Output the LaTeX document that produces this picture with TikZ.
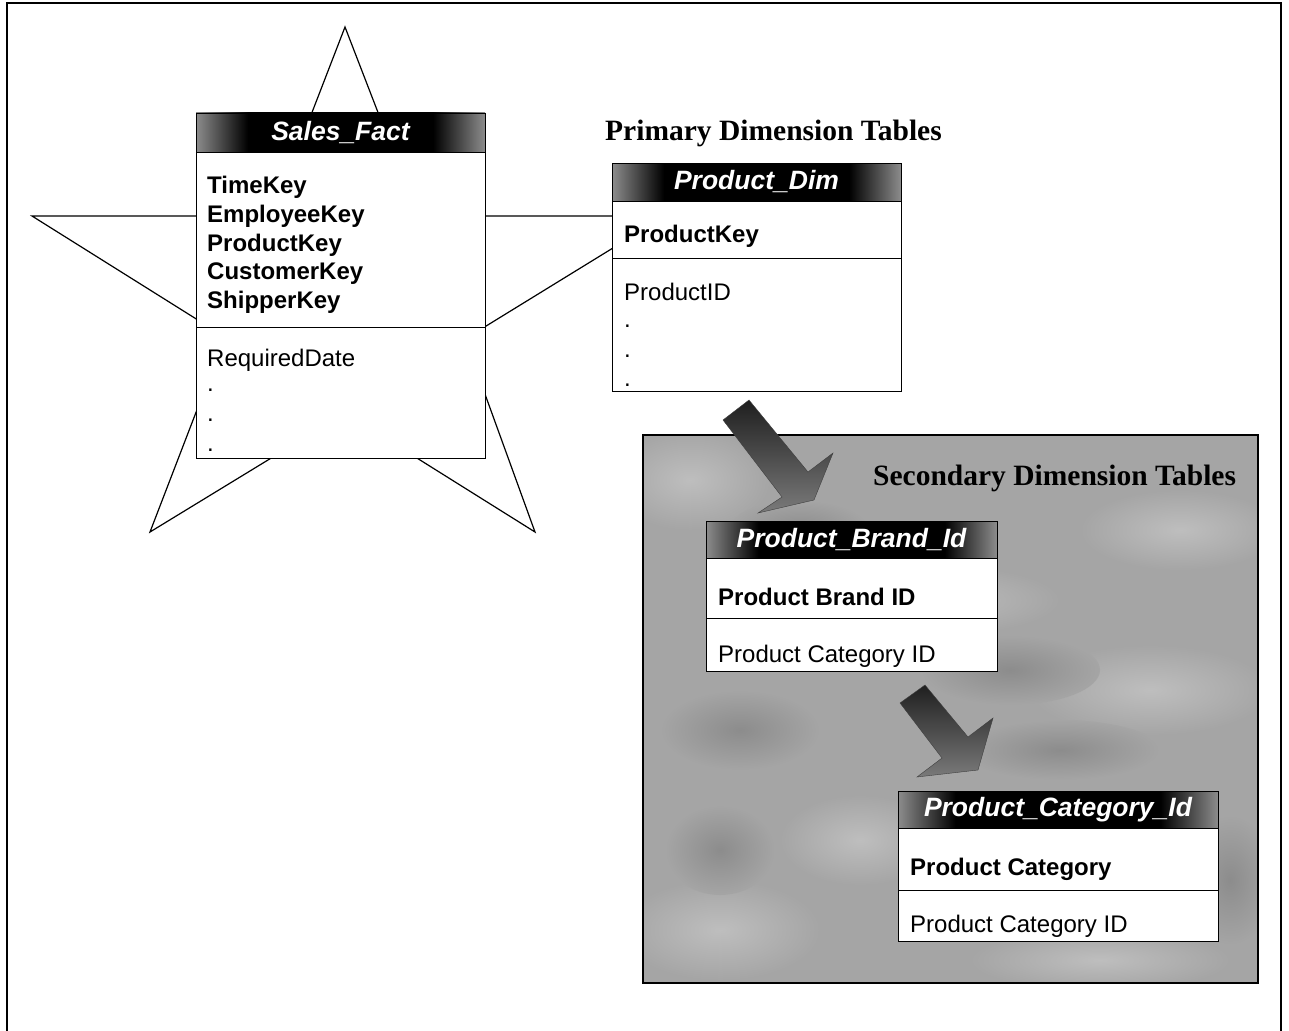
\documentclass[tikz,border=0pt]{standalone}
\usepackage{fontspec}
\setmainfont{Liberation Serif}
\setsansfont{Liberation Sans}
\usetikzlibrary{calc}

% header bars: black core fading to grey at both ends
\pgfdeclarehorizontalshading{hdrshade}{100bp}{%
  color(0bp)=(black!45); color(25bp)=(black!45); color(34bp)=(black);
  color(66bp)=(black); color(75bp)=(black!45); color(100bp)=(black!45)}

\definecolor{panelgray}{RGB}{165,165,165}
\definecolor{panellight}{RGB}{190,190,190}
\definecolor{paneldark}{RGB}{140,140,140}

\tikzset{
  x=1pt, y=-1pt,
  tblbox/.style={draw=black, line width=0.9pt, fill=white, anchor=north west,
    inner sep=0pt, outer sep=0pt},
  hdrbox/.style={draw=black, line width=0.9pt, shading=hdrshade, anchor=north west,
    inner sep=0pt, outer sep=0pt},
  hdrtext/.style={text=white, inner sep=0pt,
    font=\sffamily\bfseries\itshape\fontsize{26.5}{28}\selectfont},
  keyfield/.style={anchor=base west, inner sep=0pt,
    font=\sffamily\bfseries\fontsize{24}{26}\selectfont},
  plainfield/.style={anchor=base west, inner sep=0pt,
    font=\sffamily\fontsize{24}{26}\selectfont},
  grouptitle/.style={anchor=base west, inner sep=0pt,
    font=\rmfamily\bfseries\fontsize{29.5}{31}\selectfont},
  divider/.style={draw=black, line width=0.9pt},
  blockarrow/.style={top color=black!88, bottom color=black!52, draw=black!75,
    line width=0.4pt},
  lightpatch/.style={inner color=panellight, outer color=panelgray},
  darkpatch/.style={inner color=paneldark, outer color=panelgray},
}

\begin{document}
\begin{tikzpicture}
\useasboundingbox (0,0) rectangle (1289,1030);

% outer frame (open at the bottom)
\draw[line width=2pt] (7,1032) -- (7,3) -- (1281,3) -- (1281,1032);

% star behind the fact table
\draw[line width=1.2pt, fill=white]
  (345,27) -- (418,216) -- (665,216) -- (465,339) -- (535,532)
  -- (345,413) -- (150,532) -- (225,337) -- (32,216) -- (272,216) -- cycle;

% ---------- fact table ----------
\node[tblbox, minimum width=289pt, minimum height=345pt] (sales) at (196,113) {};
\node[hdrbox, minimum width=289pt, minimum height=39pt] (salesH) at (196,113) {};
\node[hdrtext] (salesT) at (salesH.center) {Sales\_Fact};
\draw[divider] (196,327) -- (485,327);
\node[keyfield] (sk1) at (207,193) {TimeKey};
\node[keyfield] (sk2) at (207,222) {EmployeeKey};
\node[keyfield] (sk3) at (207,251) {ProductKey};
\node[keyfield] (sk4) at (207,279) {CustomerKey};
\node[keyfield] (sk5) at (207,308) {ShipperKey};
\node[plainfield] (sf1) at (207,366) {RequiredDate};
\node[plainfield] (sd1) at (207,391) {.};
\node[plainfield] (sd2) at (207,421) {.};
\node[plainfield] (sd3) at (207,451) {.};

% ---------- primary dimension ----------
\node[grouptitle] (primT) at (605,140) {Primary Dimension Tables};
\node[tblbox, minimum width=289pt, minimum height=228pt] (pdim) at (612,163) {};
\node[hdrbox, minimum width=289pt, minimum height=38pt] (pdimH) at (612,163) {};
\node[hdrtext] (pdimT) at (pdimH.center) {Product\_Dim};
\draw[divider] (612,258) -- (901,258);
\node[keyfield] (pk1) at (624,242) {ProductKey};
\node[plainfield] (pf1) at (624,300) {ProductID};
\node[plainfield] (pd1) at (624,327) {.};
\node[plainfield] (pd2) at (624,357) {.};
\node[plainfield] (pd3) at (624,386) {.};

% ---------- secondary dimension panel (mottled grey) ----------
\fill[panelgray] (643,435) rectangle (1258,983);
\begin{scope}
  \clip (643,435) rectangle (1258,983);
  \shade[lightpatch] (690,480) ellipse (80 and 50);
  \shade[lightpatch] (930,600) ellipse (130 and 35);
  \shade[lightpatch] (1180,530) ellipse (100 and 40);
  \shade[lightpatch] (1150,690) ellipse (120 and 45);
  \shade[lightpatch] (720,930) ellipse (100 and 50);
  \shade[lightpatch] (860,840) ellipse (80 and 45);
  \shade[lightpatch] (1100,960) ellipse (130 and 30);
  \shade[darkpatch] (1010,670) ellipse (90 and 35);
  \shade[darkpatch] (740,730) ellipse (80 and 40);
  \shade[darkpatch] (720,850) ellipse (55 and 45);
  \shade[darkpatch] (1060,750) ellipse (100 and 30);
  \shade[darkpatch] (1230,880) ellipse (45 and 65);
  \shade[darkpatch] (800,530) ellipse (70 and 30);
\end{scope}
\draw[line width=2pt] (643,435) rectangle (1258,983);
\node[grouptitle] (secT) at (873,485) {Secondary Dimension Tables};

% ---------- brand table ----------
\node[tblbox, minimum width=291pt, minimum height=150pt] (brand) at (706,521) {};
\node[hdrbox, minimum width=291pt, minimum height=37pt] (brandH) at (706,521) {};
\node[hdrtext] (brandT) at (brandH.center) {Product\_Brand\_Id};
\draw[divider] (706,618) -- (997,618);
\node[keyfield] (bk1) at (718,605) {Product Brand ID};
\node[plainfield] (bf1) at (718,662) {Product Category ID};

% ---------- category table ----------
\node[tblbox, minimum width=320pt, minimum height=150pt] (cat) at (898,791) {};
\node[hdrbox, minimum width=320pt, minimum height=37pt] (catH) at (898,791) {};
\node[hdrtext] (catT) at (catH.center) {Product\_Category\_Id};
\draw[divider] (898,890) -- (1218,890);
\node[keyfield] (ck1) at (910,875) {Product Category};
\node[plainfield] (cf1) at (910,932) {Product Category ID};

% ---------- block arrows ----------
\shade[blockarrow]
  (723,420) -- (749,400) -- (808,472) -- (833,453) -- (814,500)
  -- (758,513) -- (782,497) -- cycle;
\shade[blockarrow]
  (900,703) -- (925,685) -- (968,737) -- (993,718) -- (978,770)
  -- (917,777) -- (942,758) -- cycle;
\end{tikzpicture}
\end{document}
